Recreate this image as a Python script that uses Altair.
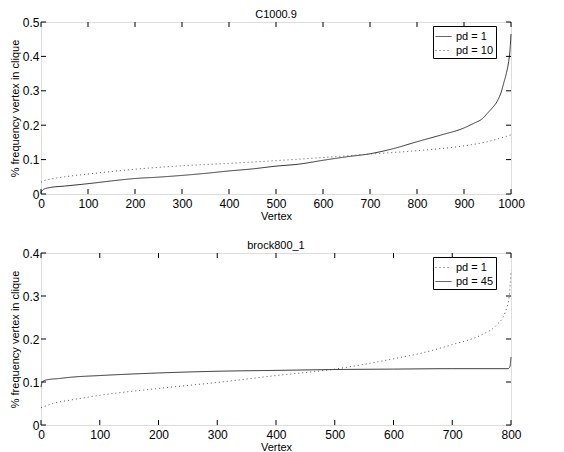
import altair as alt
import pandas as pd

# ---- data ----
top_x_pd1 = [0, 2, 5, 10, 20, 50, 100, 150, 200, 250, 300, 350, 400, 450, 500, 550, 600, 650, 700, 750,
             800, 850, 900, 920, 940, 950, 960, 970, 980, 985, 990, 995, 998, 1000]
top_y_pd1 = [0.004, 0.009, 0.013, 0.016, 0.019, 0.023, 0.030, 0.038, 0.045, 0.049, 0.054, 0.060, 0.067, 0.073,
             0.081, 0.087, 0.098, 0.108, 0.117, 0.132, 0.152, 0.171, 0.192, 0.205, 0.220, 0.235, 0.250, 0.268,
             0.300, 0.325, 0.350, 0.385, 0.42, 0.465]
top_x_pd10 = [0, 5, 20, 50, 100, 200, 300, 400, 500, 600, 700, 800, 900, 950, 1000]
top_y_pd10 = [0.034, 0.038, 0.043, 0.050, 0.058, 0.072, 0.082, 0.089, 0.097, 0.106, 0.116, 0.126, 0.140, 0.152, 0.172]

bot_x_pd1 = [0, 20, 50, 100, 200, 300, 400, 500, 600, 650, 700, 750, 775, 790, 797, 800]
bot_y_pd1 = [0.040, 0.050, 0.058, 0.069, 0.085, 0.099, 0.115, 0.130, 0.154, 0.168, 0.187, 0.210, 0.232, 0.262, 0.300, 0.36]
bot_x_pd45 = [0, 1, 3, 10, 30, 50, 100, 200, 300, 400, 500, 600, 700, 795, 798, 800]
bot_y_pd45 = [0.088, 0.096, 0.101, 0.105, 0.108, 0.111, 0.115, 0.121, 0.125, 0.127, 0.129, 0.130, 0.131, 0.131, 0.135, 0.158]

top_xticks = [0, 100, 200, 300, 400, 500, 600, 700, 800, 900, 1000]
top_yticks = [0, 0.1, 0.2, 0.3, 0.4, 0.5]
bot_xticks = [0, 100, 200, 300, 400, 500, 600, 700, 800]
bot_yticks = [0, 0.1, 0.2, 0.3, 0.4]

W = 470
H = 172
FONT = "Liberation Sans"
YLBL = "datum.value == 0 ? '0' : format(datum.value, '.1f')"


def panel(title, series, xmax, ymax, xticks, yticks, order, dashes, colors):
    rows = []
    for name, xs, ys in series:
        for a, b in zip(xs, ys):
            rows.append({"Vertex": a, "freq": b, "series": name})
    df = pd.DataFrame(rows)
    xs = alt.Scale(domain=[0, xmax], nice=False, zero=False)
    ys = alt.Scale(domain=[0, ymax], nice=False, zero=False)
    xa = alt.Axis(values=xticks, format="d", title="Vertex", grid=False, ticks=False,
                  domain=False, labelPadding=4, titlePadding=1, labelOverlap=False,
                  labelFlush=False, titleFontWeight="normal", titleFontSize=11,
                  labelFontSize=12, labelFont=FONT, titleFont=FONT)
    ya = alt.Axis(values=yticks, labelExpr=YLBL, title="% frequency vertex in clique", grid=False,
                  ticks=False, domain=False, labelPadding=2, titlePadding=2, labelOverlap=False,
                  labelFlush=False, titleFontWeight="normal", titleFontSize=11,
                  labelFontSize=12, labelFont=FONT, titleFont=FONT)

    lines = alt.Chart(df).mark_line(strokeWidth=1, strokeCap="butt", interpolate="monotone").encode(
        x=alt.X("Vertex:Q", scale=xs, axis=xa),
        y=alt.Y("freq:Q", scale=ys, axis=ya),
        color=alt.Color("series:N", scale=alt.Scale(domain=order, range=colors),
                        legend=alt.Legend(title=None, orient="none", legendX=W - 78, legendY=4,
                                          strokeColor="black",
                                          fillColor="white", padding=2, symbolType="stroke",
                                          symbolSize=256, symbolStrokeWidth=1, labelFontSize=11,
                                          labelFont=FONT, rowPadding=0, cornerRadius=0,
                                          labelFontWeight="normal", labelColor="black")),
        strokeDash=alt.StrokeDash("series:N", scale=alt.Scale(domain=order, range=dashes), legend=None),
        order=alt.Order("Vertex:Q"),
    )

    xt = pd.DataFrame({"Vertex": xticks})
    yt = pd.DataFrame({"freq": yticks})
    tb = alt.Chart(xt).mark_rule(color="black", strokeWidth=1).encode(
        x=alt.X("Vertex:Q", scale=xs, axis=xa), y=alt.value(H), y2=alt.value(H - 5))
    tt = alt.Chart(xt).mark_rule(color="black", strokeWidth=1).encode(
        x=alt.X("Vertex:Q", scale=xs, axis=xa), y=alt.value(0), y2=alt.value(5))
    tl = alt.Chart(yt).mark_rule(color="black", strokeWidth=1).encode(
        y=alt.Y("freq:Q", scale=ys, axis=ya), x=alt.value(0), x2=alt.value(5))
    tr = alt.Chart(yt).mark_rule(color="black", strokeWidth=1).encode(
        y=alt.Y("freq:Q", scale=ys, axis=ya), x=alt.value(W - 5), x2=alt.value(W))

    return alt.layer(lines, tb, tt, tl, tr).properties(
        width=W, height=H,
        title=alt.TitleParams(title, fontSize=11, font=FONT, fontWeight="normal", offset=-4, anchor="middle"),
    )


top = panel("C1000.9",
            [("pd = 1", top_x_pd1, top_y_pd1), ("pd = 10", top_x_pd10, top_y_pd10)],
            1000, 0.5, top_xticks, top_yticks, ["pd = 1", "pd = 10"], [[1, 0], [1, 3]],
            ["#333333", "#555555"])
bot = panel("brock800_1",
            [("pd = 1", bot_x_pd1, bot_y_pd1), ("pd = 45", bot_x_pd45, bot_y_pd45)],
            800, 0.4, bot_xticks, bot_yticks, ["pd = 1", "pd = 45"], [[1, 3], [1, 0]],
            ["#555555", "#333333"])

chart = alt.vconcat(top, bot, spacing=17).resolve_scale(color="independent", strokeDash="independent").properties(
    padding=0
).configure_view(stroke="black", strokeWidth=1).configure_axis(
    labelColor="black", titleColor="black"
).configure(background="white")

chart.save("out.html", embed_options={"renderer": "svg", "actions": False})
